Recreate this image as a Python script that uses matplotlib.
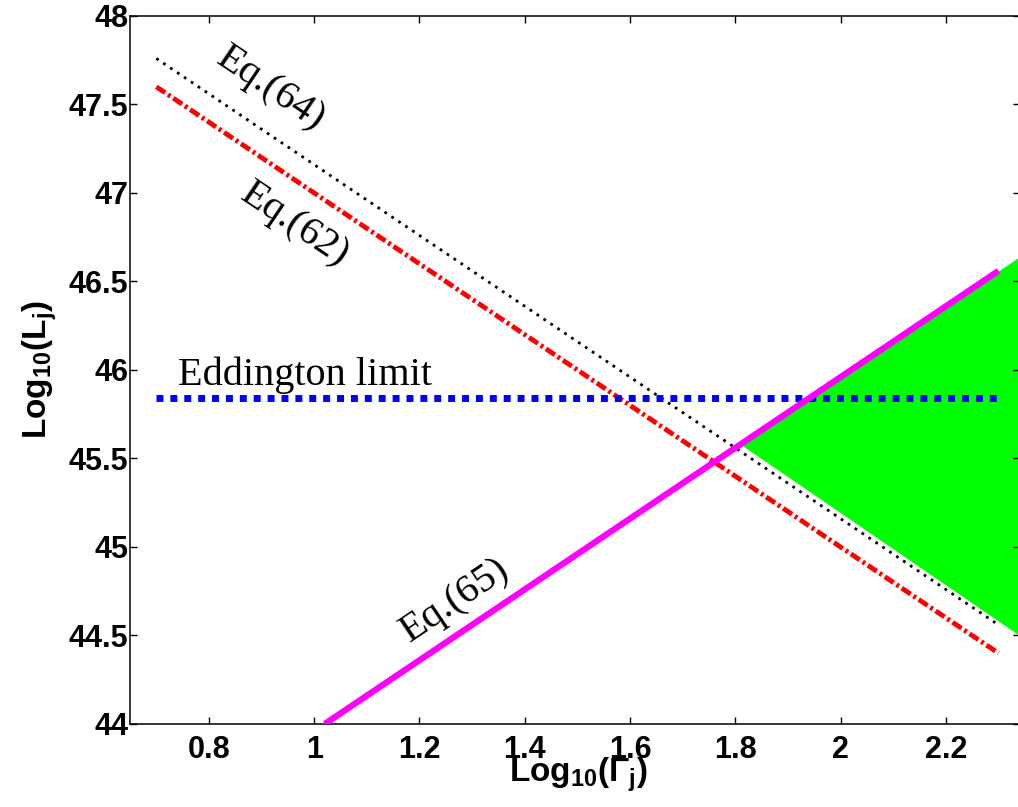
import numpy as np
import matplotlib.pyplot as plt

plt.rcParams['mathtext.fontset'] = 'custom'
plt.rcParams['mathtext.rm'] = 'Liberation Sans:bold'
plt.rcParams['mathtext.it'] = 'Liberation Sans:bold'
plt.rcParams['mathtext.bf'] = 'Liberation Sans:bold'

# values
log_gamma = [0.7, 2.3]
eq64 = [47.76, 44.56]
eq62 = [47.6, 44.4]
eddington = 45.84
eq65_x = [1.02, 2.3]
eq65 = [44.0, 46.56]

# allowed region (between Eq.(64) and Eq.(65), to the right edge)
fill_x = [1.81, 2.34]
fill_upper = [45.58, 46.64]
fill_lower = [45.58, 44.50]

xticks = [0.8, 1.0, 1.2, 1.4, 1.6, 1.8, 2.0, 2.2]
xtick_labels = ['0.8', '1', '1.2', '1.4', '1.6', '1.8', '2', '2.2']
yticks = [44, 44.5, 45, 45.5, 46, 46.5, 47, 47.5, 48]
ytick_labels = ['44', '44.5', '45', '45.5', '46', '46.5', '47', '47.5', '48']

fig = plt.figure(figsize=(10.18, 8.07), dpi=100)
ax = fig.add_axes([0.1277, 0.1029, 0.8738, 0.8773])

ax.fill_between(fill_x, fill_lower, fill_upper, color='#00ff00', lw=0, zorder=1)
ax.plot(log_gamma, eq64, color='black', lw=2, ls=(0, (1.0, 2.0)), zorder=2)
ax.plot(log_gamma, eq62, color='red', lw=3.5, ls=(0, (2.2, 0.7, 0.6, 0.7)),
        dash_capstyle='butt', zorder=2)
ax.plot(log_gamma, [eddington, eddington], color='blue', lw=5, ls=(0, (1, 1)),
        dash_capstyle='butt', zorder=3)
ax.plot(eq65_x, eq65, color='magenta', lw=4.5, solid_capstyle='butt', zorder=4)

serif = 'Liberation Serif'
ax.text(0.918, 47.59, 'Eq.(64)', rotation=-34, fontsize=29, family=serif,
        ha='center', va='center')
ax.text(0.964, 46.82, 'Eq.(62)', rotation=-34, fontsize=29, family=serif,
        ha='center', va='center')
ax.text(1.268, 44.70, 'Eq.(65)', rotation=34, fontsize=29, family=serif,
        ha='center', va='center')
ax.text(0.742, 45.97, 'Eddington limit', fontsize=29, family=serif,
        ha='left', va='center')

ax.set_xlim(0.65, 2.34)
ax.set_ylim(44, 48)
ax.set_xticks(xticks)
ax.set_xticklabels(xtick_labels)
ax.set_yticks(yticks)
ax.set_yticklabels(ytick_labels)
for lab in ax.get_xticklabels() + ax.get_yticklabels():
    lab.set_fontfamily('Liberation Sans')
    lab.set_fontweight('bold')
    lab.set_fontsize(22)
ax.tick_params(direction='in', length=5, width=1, top=True, right=True)
ax.tick_params(axis='x', pad=8)
ax.tick_params(axis='y', pad=1)
for s in ax.spines.values():
    s.set_linewidth(1.1)

ax.set_xlabel(r'$\mathbf{Log_{10}(\Gamma_j)}$', fontsize=24)
ax.xaxis.set_label_coords(0.504, -0.045)
ax.set_ylabel(r'$\mathbf{Log_{10}(L_j)}$', fontsize=24)
ax.yaxis.set_label_coords(-0.08, 0.5)

fig.savefig('out.png', dpi=100)
